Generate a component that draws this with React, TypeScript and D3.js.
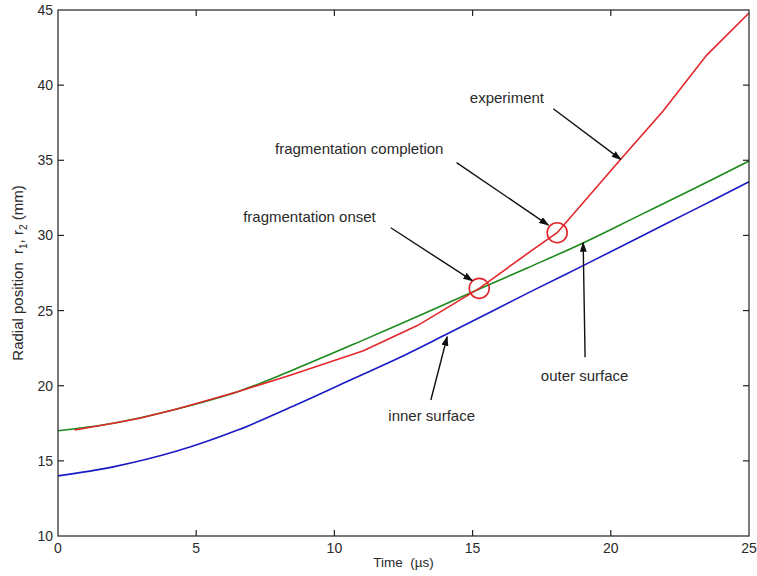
import React, { useEffect, useRef } from 'react';
import * as d3 from 'd3';

// values (time in µs, radius in mm)
const outerTime = [0, 2, 4.3, 6.5, 8.5, 11, 13, 15.2, 17, 19, 21, 23, 25];
const outerRadius = [17.0, 17.5, 18.45, 19.6, 21.05, 23.0, 24.6, 26.4, 27.85, 29.5, 31.3, 33.1, 34.95];

const innerTime = [0, 2, 4.3, 6.5, 8.7, 10.6, 12.5, 14, 17.1, 19, 21, 23, 25];
const innerRadius = [14.0, 14.6, 15.65, 17.05, 18.8, 20.4, 22.0, 23.37, 26.26, 27.99, 29.85, 31.7, 33.57];

const expTime = [0.6, 2, 3, 4.3, 6.5, 8.4, 11.05, 13, 14, 15.24, 17.08, 18.06, 20.39, 21.9, 23.47, 25];
const expRadius = [17.05, 17.5, 17.85, 18.45, 19.6, 20.7, 22.33, 24.0, 25.1, 26.48, 28.92, 30.18, 35.13, 38.3, 42.0, 44.8];

const fragTime = [15.24, 18.06];
const fragRadius = [26.48, 30.18];

const xTicks = [0, 5, 10, 15, 20, 25];
const yTicks = [10, 15, 20, 25, 30, 35, 40, 45];

const App = () => {
  const svgRef = useRef<SVGSVGElement>(null);

  useEffect(() => {
    const svg = d3.select(svgRef.current);
    const width = 757;
    const height = 576;
    const margin = { top: 10, right: 8, bottom: 40, left: 58 };
    const font = '"Liberation Sans", Arial, sans-serif';

    svg.selectAll('*').remove();

    const x = d3.scaleLinear().domain([0, 25]).range([margin.left, width - margin.right]);
    const y = d3.scaleLinear().domain([10, 45]).range([height - margin.bottom, margin.top]);

    svg.append('defs').append('marker')
      .attr('id', 'arrow')
      .attr('markerUnits', 'userSpaceOnUse')
      .attr('markerWidth', 10)
      .attr('markerHeight', 8)
      .attr('refX', 9)
      .attr('refY', 3.5)
      .attr('orient', 'auto')
      .append('path')
      .attr('d', 'M0,0 L10,3.5 L0,7 Z')
      .attr('fill', '#111');

    const line = d3.line<[number, number]>()
      .x(d => x(d[0]))
      .y(d => y(d[1]));

    const series = [
      { t: outerTime, r: outerRadius, color: '#1b8a1b', curve: d3.curveCatmullRom },
      { t: innerTime, r: innerRadius, color: '#1a1ac4', curve: d3.curveCatmullRom },
      { t: expTime, r: expRadius, color: '#e2272b', curve: d3.curveLinear },
    ];

    series.forEach(s => {
      svg.append('path')
        .datum(s.t.map((t, i) => [t, s.r[i]] as [number, number]))
        .attr('fill', 'none')
        .attr('stroke', s.color)
        .attr('stroke-width', 1.6)
        .attr('d', line.curve(s.curve));
    });

    svg.selectAll('circle.frag')
      .data(fragTime)
      .enter()
      .append('circle')
      .attr('class', 'frag')
      .attr('cx', d => x(d))
      .attr('cy', (d, i) => y(fragRadius[i]))
      .attr('r', 10)
      .attr('fill', 'none')
      .attr('stroke', '#e2272b')
      .attr('stroke-width', 1.6);

    // axes box with inward ticks
    const axis = svg.append('g').attr('stroke', '#222').attr('stroke-width', 1.2);
    axis.append('rect')
      .attr('x', x(0)).attr('y', y(45))
      .attr('width', x(25) - x(0)).attr('height', y(10) - y(45))
      .attr('fill', 'none');
    xTicks.slice(1, -1).forEach(t => {
      axis.append('line').attr('x1', x(t)).attr('x2', x(t)).attr('y1', y(10)).attr('y2', y(10) - 6);
      axis.append('line').attr('x1', x(t)).attr('x2', x(t)).attr('y1', y(45)).attr('y2', y(45) + 6);
    });
    yTicks.slice(1, -1).forEach(v => {
      axis.append('line').attr('x1', x(0)).attr('x2', x(0) + 6).attr('y1', y(v)).attr('y2', y(v));
      axis.append('line').attr('x1', x(25)).attr('x2', x(25) - 6).attr('y1', y(v)).attr('y2', y(v));
    });

    const labels = svg.append('g').attr('font-family', font).attr('fill', '#2a2a2a');
    xTicks.forEach(t => {
      labels.append('text')
        .attr('x', x(t)).attr('y', y(10) + 17)
        .attr('text-anchor', 'middle')
        .attr('font-size', 14)
        .text(t);
    });
    yTicks.forEach(v => {
      labels.append('text')
        .attr('x', x(0) - 5).attr('y', y(v) + 5)
        .attr('text-anchor', 'end')
        .attr('font-size', 14)
        .text(v);
    });

    labels.append('text')
      .attr('x', x(12.5)).attr('y', height - 9)
      .attr('text-anchor', 'middle')
      .attr('font-size', 13.5)
      .style('white-space', 'pre')
      .text('Time  (\u00b5s)');

    const yl = labels.append('text')
      .attr('transform', `translate(23,${y(27.5)}) rotate(-90)`)
      .attr('text-anchor', 'middle')
      .attr('font-size', 15)
      .style('white-space', 'pre');
    yl.append('tspan').text('Radial position  r');
    yl.append('tspan').attr('font-size', 10).attr('dy', 4).text('1');
    yl.append('tspan').attr('dy', -4).text(', r');
    yl.append('tspan').attr('font-size', 10).attr('dy', 4).text('2');
    yl.append('tspan').attr('dy', -4).text(' (mm)');

    // annotations in data coordinates: text start, arrow tail, arrow head
    const notes = [
      { label: 'experiment', tx: 14.9, ty: 38.8, from: [17.92, 38.43], to: [20.36, 35.06] },
      { label: 'fragmentation completion', tx: 7.85, ty: 35.42, from: [14.42, 34.84], to: [17.74, 30.69] },
      { label: 'fragmentation onset', tx: 6.7, ty: 30.92, from: [12.04, 30.51], to: [14.99, 26.99] },
      { label: 'inner surface', tx: 11.95, ty: 17.62, from: [13.49, 19.05], to: [14.08, 23.26] },
      { label: 'outer surface', tx: 17.47, ty: 20.31, from: [19.07, 21.89], to: [19.0, 29.51] },
    ];

    notes.forEach(n => {
      labels.append('text')
        .attr('x', x(n.tx)).attr('y', y(n.ty))
        .attr('font-size', 15)
        .text(n.label);
      svg.append('line')
        .attr('x1', x(n.from[0])).attr('y1', y(n.from[1]))
        .attr('x2', x(n.to[0])).attr('y2', y(n.to[1]))
        .attr('stroke', '#111')
        .attr('stroke-width', 1.4)
        .attr('marker-end', 'url(#arrow)');
    });
  }, []);

  return (
    <svg
      ref={svgRef}
      width={757}
      height={576}
      style={{ position: 'absolute', left: 0, top: 0, background: '#fff' }}
    ></svg>
  );
};

export default App;
